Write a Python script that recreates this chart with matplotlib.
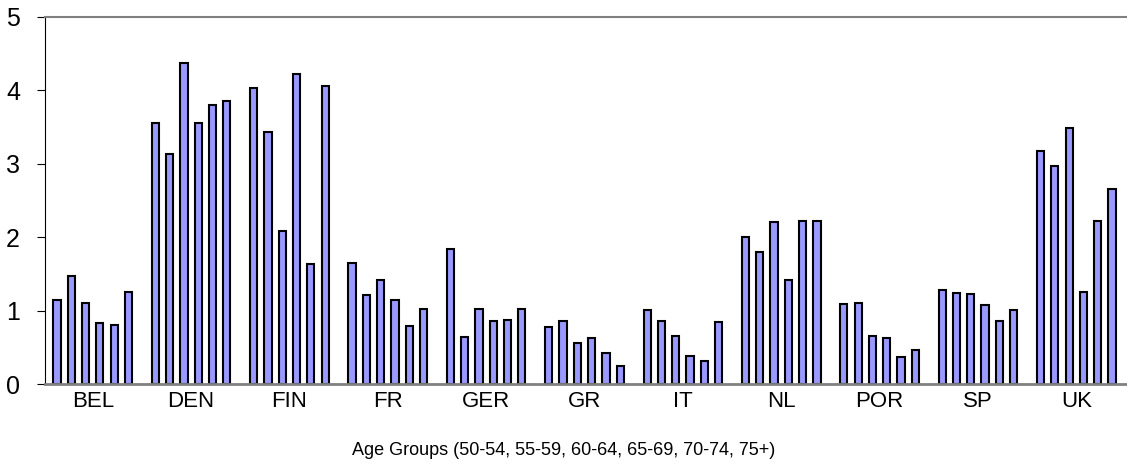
import matplotlib.pyplot as plt
import numpy as np

countries = ["BEL", "DEN", "FIN", "FR", "GER", "GR", "IT", "NL", "POR", "SP", "UK"]
values = [
    [1.15, 1.47, 1.10, 0.83, 0.81, 1.25],
    [3.55, 3.13, 4.38, 3.55, 3.80, 3.85],
    [4.03, 3.43, 2.09, 4.23, 1.63, 4.06],
    [1.65, 1.21, 1.42, 1.14, 0.79, 1.02],
    [1.84, 0.64, 1.02, 0.86, 0.87, 1.02],
    [0.78, 0.86, 0.56, 0.63, 0.42, 0.25],
    [1.01, 0.86, 0.66, 0.38, 0.31, 0.84],
    [2.00, 1.80, 2.21, 1.42, 2.22, 2.22],
    [1.09, 1.11, 0.65, 0.63, 0.37, 0.47],
    [1.28, 1.24, 1.23, 1.07, 0.86, 1.01],
    [3.17, 2.97, 3.49, 1.26, 2.22, 2.65],
]
xlabel = "Age Groups (50-54, 55-59, 60-64, 65-69, 70-74, 75+)"

fig = plt.figure(figsize=(11.27, 4.72), dpi=100)
ax = fig.add_axes([45 / 1127, 88 / 472, 1 - 45 / 1127, 367 / 472])

group_step = 6.88
for g, vals in enumerate(values):
    x = g * group_step + np.arange(len(vals))
    ax.bar(x, vals, width=0.5, color="#9999ff", edgecolor="black", linewidth=1.5)

ax.set_xticks(np.arange(len(countries)) * group_step + 2.5)
ax.set_xticklabels(countries, fontsize=16, family="Liberation Sans")
ax.tick_params(axis="x", length=0, pad=5)
ax.set_xlim(-0.84, 10 * group_step + 5 + 1.05)
ax.set_ylim(0, 5)
ax.set_yticks(range(6))
ax.set_yticklabels(range(6), fontsize=18, family="Liberation Sans")
ax.tick_params(axis="y", direction="out", length=6, pad=12)

ax.spines["left"].set_color("black")
ax.spines["bottom"].set_color("#808080")
ax.spines["bottom"].set_linewidth(2)
ax.spines["top"].set_color("#808080")
ax.spines["top"].set_linewidth(1.5)
ax.spines["right"].set_visible(False)

fig.text(0.5, 0.035, xlabel, ha="center", fontsize=13, family="Liberation Sans")
fig.savefig("out.png", dpi=100)
